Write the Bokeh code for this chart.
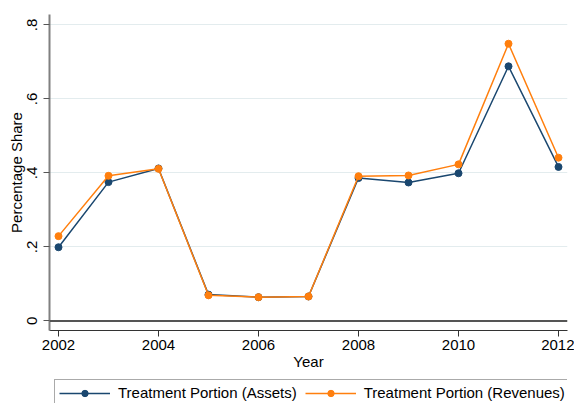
from bokeh.plotting import figure
from bokeh.layouts import column
from bokeh.models import Range1d, Span, Legend, LegendItem, FixedTicker
from bokeh.embed import file_html
from bokeh.resources import INLINE

years = [2002, 2003, 2004, 2005, 2006, 2007, 2008, 2009, 2010, 2011, 2012]
assets = [0.199, 0.375, 0.412, 0.071, 0.064, 0.066, 0.386, 0.374, 0.399, 0.688, 0.416]
revenues = [0.229, 0.392, 0.411, 0.069, 0.064, 0.066, 0.391, 0.393, 0.423, 0.749, 0.441]

x_ticks = [2002, 2004, 2006, 2008, 2010, 2012]
y_ticks = [0, 0.2, 0.4, 0.6, 0.8]
y_tick_labels = {0: "0", 0.2: ".2", 0.4: ".4", 0.6: ".6", 0.8: ".8"}
series_names = ["Treatment Portion (Assets)", "Treatment Portion (Revenues)"]

FONT = "Liberation Sans"
BLUE = "#1a476f"
ORANGE = "#ff7f0e"


def add_series(fig):
    ra = [fig.line(years, assets, line_color=BLUE, line_width=1.5),
          fig.scatter(years, assets, size=7, color=BLUE)]
    rr = [fig.line(years, revenues, line_color=ORANGE, line_width=1.5),
          fig.scatter(years, revenues, size=7, color=ORANGE)]
    return ra, rr


p = figure(width=574, height=376, output_backend="svg", toolbar_location=None,
           x_range=Range1d(2001.82, 2012.18), y_range=Range1d(-0.026, 0.828),
           min_border_left=49, min_border_right=7, min_border_top=14, min_border_bottom=46)
p.outline_line_color = None
p.background_fill_color = "white"
p.border_fill_color = "white"

# axes
p.xaxis.ticker = FixedTicker(ticks=x_ticks)
p.yaxis.ticker = FixedTicker(ticks=y_ticks)
p.yaxis.major_label_overrides = y_tick_labels
p.yaxis.major_label_orientation = "vertical"
p.xaxis.axis_label = "Year"
p.yaxis.axis_label = "Percentage Share"
for ax in (p.xaxis, p.yaxis):
    ax.axis_label_text_font = FONT
    ax.axis_label_text_font_size = "15px"
    ax.axis_label_text_font_style = "normal"
    ax.axis_label_text_color = "black"
    ax.major_label_text_font = FONT
    ax.major_label_text_font_size = "15px"
    ax.major_label_text_color = "black"
    ax.major_tick_out = 6
    ax.major_tick_in = 0
    ax.minor_tick_out = 0
    ax.minor_tick_in = 0
    ax.major_label_standoff = 3
    ax.axis_label_standoff = 0
p.xaxis.axis_line_color = "#333333"
p.xaxis.major_tick_line_color = "#333333"
p.yaxis.axis_line_color = "#808080"
p.yaxis.axis_line_width = 2
p.yaxis.major_tick_line_color = "#555555"
p.yaxis.major_label_standoff = 6

p.xgrid.grid_line_color = None
p.ygrid.grid_line_color = "#e3ecee"
p.ygrid.grid_line_width = 1

p.add_layout(Span(location=0, dimension="width", line_color="#555555", line_width=2))

add_series(p)

# legend goes in its own strip under the chart (stata puts it below the axis title)
# the series are drawn there too but fall outside its 0..1 ranges, only the legend shows
lg = figure(width=574, height=27, output_backend="svg", toolbar_location=None,
            min_border=0, x_range=Range1d(0, 1), y_range=Range1d(0, 1))
lg.axis.visible = False
lg.grid.grid_line_color = None
lg.outline_line_color = None
ra, rr = add_series(lg)

legend = Legend(items=[
    LegendItem(label=series_names[0], renderers=ra),
    LegendItem(label=series_names[1], renderers=rr),
], orientation="horizontal", location=(5, -3))
legend.label_text_font = FONT
legend.label_text_font_size = "15px"
legend.label_text_color = "black"
legend.glyph_width = 51
legend.glyph_height = 16
legend.label_height = 16
legend.label_standoff = 8
legend.spacing = 8
legend.padding = 4
legend.margin = 0
legend.border_line_color = "#555555"
legend.border_line_width = 1
lg.add_layout(legend)

open("out.html", "w").write(file_html(column(p, lg, spacing=0), INLINE))
